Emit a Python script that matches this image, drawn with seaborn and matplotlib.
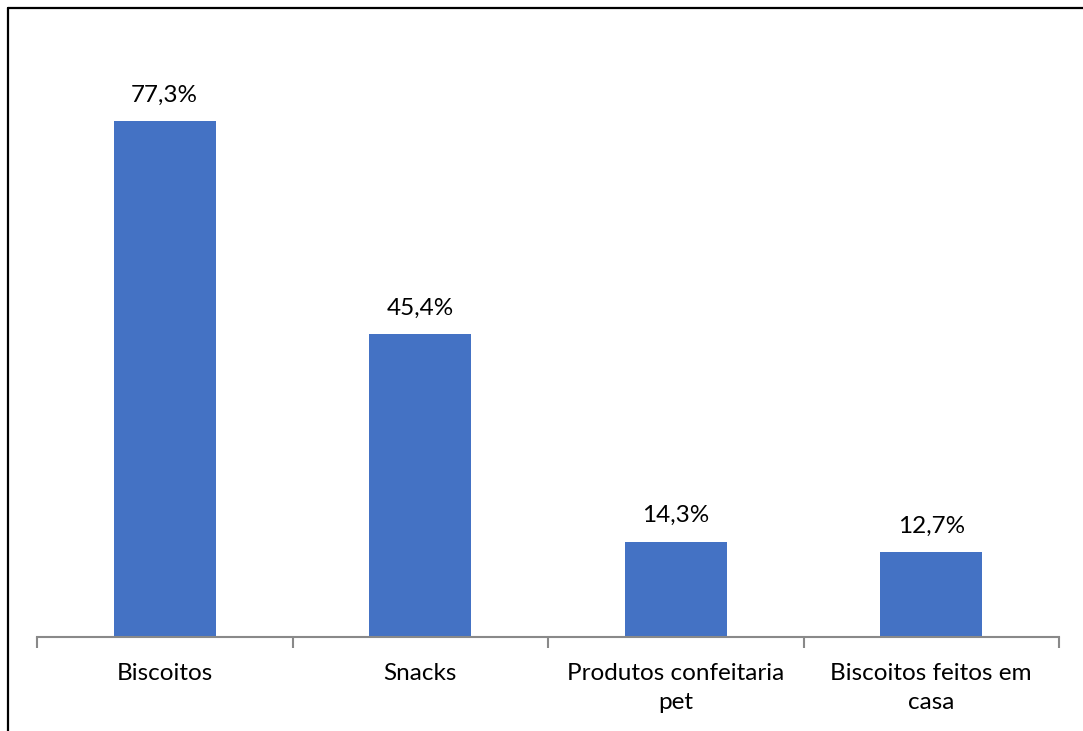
import matplotlib
matplotlib.use("Agg")
import matplotlib.pyplot as plt
import seaborn as sns
import pandas as pd
from matplotlib.lines import Line2D

categories = ["Biscoitos", "Snacks", "Produtos confeitaria\npet", "Biscoitos feitos em\ncasa"]
values = [77.3, 45.4, 14.3, 12.7]
value_labels = ["77,3%", "45,4%", "14,3%", "12,7%"]

sns.set_theme(style="white")
plt.rcParams["font.family"] = ["Lato", "DejaVu Sans"]

df = pd.DataFrame({"categoria": categories, "valor": values})

W, H = 1083, 731
fig = plt.figure(figsize=(W / 100, H / 100), dpi=100)
ax = fig.add_axes([37 / W, 1 - 637 / H, (1059 - 37) / W, (637 - 36) / H])

sns.barplot(data=df, x="categoria", y="valor", color="#4472C4", width=0.40,
            saturation=1, linewidth=0, ax=ax)

ax.set_ylim(0, 90)
ax.set_xlim(-0.5, len(categories) - 0.5)
ax.set_xlabel("")
ax.set_ylabel("")
ax.set_yticks([])
for s in ["top", "right", "left"]:
    ax.spines[s].set_visible(False)
ax.spines["bottom"].set_color("#898989")
ax.spines["bottom"].set_linewidth(1.5)

# category boundary ticks
ax.set_xticks([i - 0.5 for i in range(len(categories) + 1)], minor=True)
ax.tick_params(axis="x", which="minor", bottom=True, length=8, width=1.5, color="#898989")
ax.tick_params(axis="x", which="major", bottom=False, labelsize=17.5, pad=13, colors="black")
for lbl in ax.get_xticklabels():
    lbl.set_linespacing(1.45)

for i, (v, t) in enumerate(zip(values, value_labels)):
    ax.annotate(t, (i, v), xytext=(0, 11), textcoords="offset points",
                ha="center", va="bottom", fontsize=17.5, color="black")

# partial frame around the chart
fig.add_artist(Line2D([8 / W, 8 / W], [0, 1 - 8 / H], transform=fig.transFigure,
                      color="black", lw=1.6))
fig.add_artist(Line2D([8 / W, 1], [1 - 8 / H, 1 - 8 / H], transform=fig.transFigure,
                      color="black", lw=1.6))

fig.savefig("out.png", dpi=100, facecolor="white")
